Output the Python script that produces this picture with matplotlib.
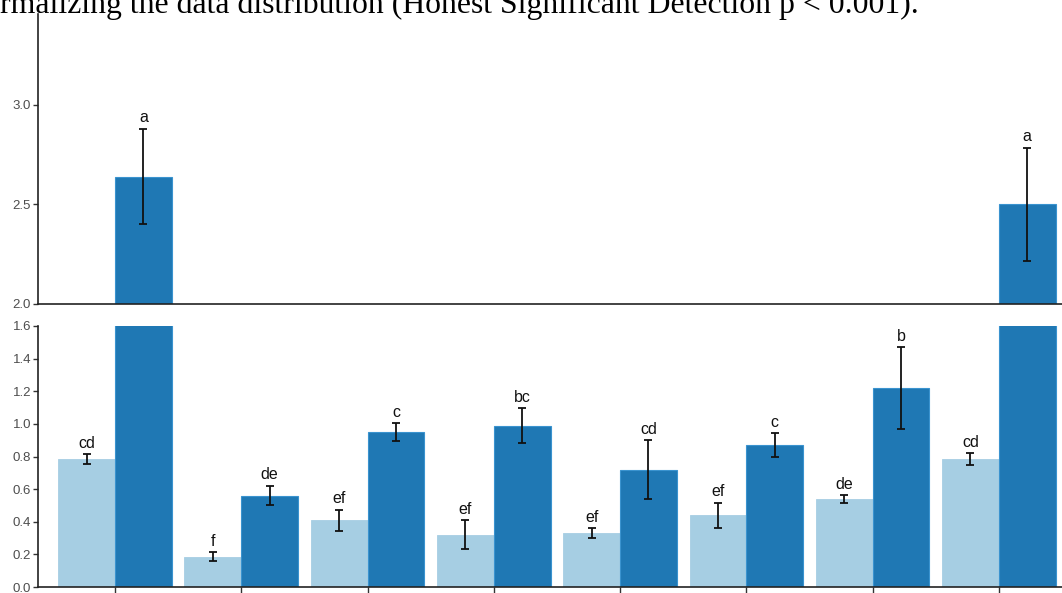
import matplotlib
matplotlib.use("Agg")
import matplotlib.pyplot as plt
import numpy as np

# Group means, standard errors and Tukey letters
groups = [1, 2, 3, 4, 5, 6, 7, 8]
light_vals = [0.785, 0.185, 0.41, 0.32, 0.33, 0.44, 0.54, 0.785]
light_err = [0.03, 0.027, 0.065, 0.09, 0.03, 0.077, 0.022, 0.036]
dark_vals = [2.64, 0.56, 0.95, 0.99, 0.72, 0.87, 1.22, 2.50]
dark_err = [0.24, 0.06, 0.055, 0.105, 0.18, 0.073, 0.25, 0.285]
light_letters = ["cd", "f", "ef", "ef", "ef", "ef", "de", "cd"]
dark_letters = ["a", "de", "c", "bc", "cd", "c", "b", "a"]

low_ticks = [0.0, 0.2, 0.4, 0.6, 0.8, 1.0, 1.2, 1.4, 1.6]
high_ticks = [2.0, 2.5, 3.0]
low_lim = (0.0, 1.6)
high_lim = (2.0, 3.457)

title_text = "rmalizing the data distribution (Honest Significant Detection p < 0.001)."

LIGHT = "#a6cee3"
DARK = "#1f78b4"
SANS = ["Liberation Sans", "DejaVu Sans"]
W, H = 1062, 593
fig = plt.figure(figsize=(W / 100, H / 100), dpi=100)

left = 38 / W
ax_low = fig.add_axes([left, 1 - 587 / H, 1 - left, (587 - 326) / H])
ax_high = fig.add_axes([left, 1 - 304 / H, 1 - left, (304 - 14) / H])

x = np.array(groups, dtype=float)
bw = 0.45


def draw(ax, lim):
    ax.bar(x - bw / 2, light_vals, width=bw, color=LIGHT, edgecolor=LIGHT, linewidth=0.6)
    ax.bar(x + bw / 2, dark_vals, width=bw, color=DARK, edgecolor="#3a93cf", linewidth=0.8)
    for xs, vals, errs, letters in ((x - bw / 2, light_vals, light_err, light_letters),
                                    (x + bw / 2, dark_vals, dark_err, dark_letters)):
        for xi, v, e, lab in zip(xs, vals, errs, letters):
            if lim[0] <= v + e <= lim[1]:
                ax.errorbar(xi, v, yerr=e, fmt="none", ecolor="#111111",
                            elinewidth=1.3, capsize=3, capthick=1.3)
                ax.annotate(lab, (xi, v + e), xytext=(0, 2.5),
                            textcoords="offset points", ha="center", va="bottom",
                            fontsize=11.5, color="#111111", family=SANS)
    ax.set_ylim(*lim)
    ax.set_xlim(0.39, 8.5)
    for s in ("top", "right"):
        ax.spines[s].set_visible(False)
    for s in ("left", "bottom"):
        ax.spines[s].set_linewidth(1.2)
        ax.spines[s].set_color("#222222")
    ax.tick_params(axis="y", length=3.5, width=1, color="#333333",
                   labelsize=9.5, labelcolor="#4d4d4d", pad=1.5)


draw(ax_low, low_lim)
draw(ax_high, high_lim)

ax_low.set_yticks(low_ticks)
ax_low.set_yticklabels([f"{t:.1f}" for t in low_ticks], family=SANS)
ax_low.set_xticks(x)
ax_low.set_xticklabels([])
ax_low.tick_params(axis="x", length=4, width=1, color="#333333")

ax_high.set_yticks(high_ticks)
ax_high.set_yticklabels([f"{t:.1f}" for t in high_ticks], family=SANS)
ax_high.set_xticks([])

fig.text(0.0, 1 - 13 / H, title_text, ha="left", va="baseline",
         fontsize=22.9, family=["Liberation Serif", "DejaVu Serif"], color="black")

fig.savefig("out.png", dpi=100)
